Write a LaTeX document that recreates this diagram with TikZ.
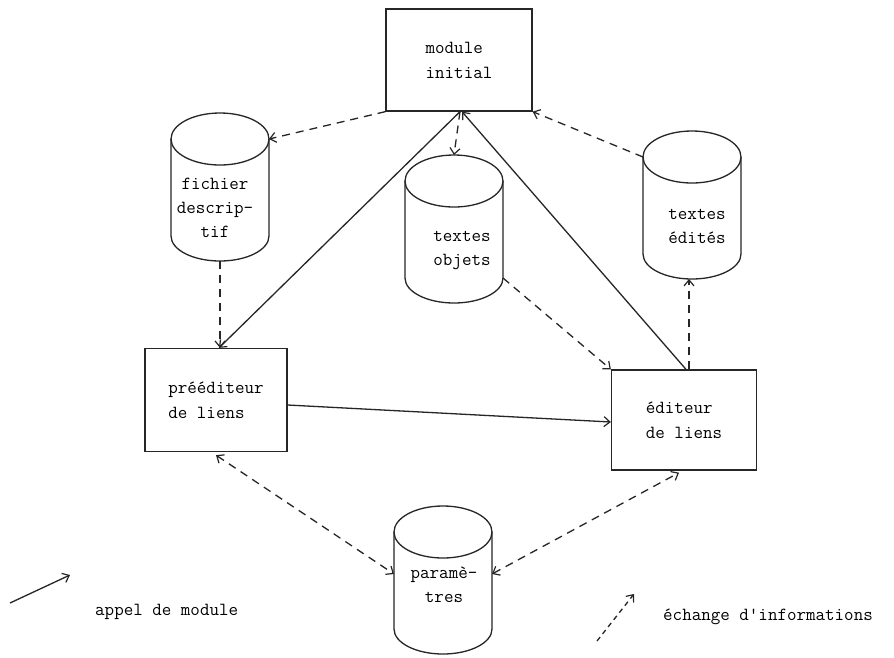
\documentclass[tikz,border=0pt]{standalone}
\usetikzlibrary{arrows.meta}
\tikzset{
  every picture/.style={x=1pt,y=-1pt},
  ink/.style={draw=black!85, line width=1.3pt},
  box/.style={ink, rectangle, minimum width=#1, inner sep=0pt, font=\ttfamily\fontsize{18.5}{25}\selectfont, align=left},
  cyltext/.style={font=\ttfamily\fontsize{18.5}{24}\selectfont, align=center, inner sep=0pt},
  legtext/.style={font=\ttfamily\fontsize{18.5}{22}\selectfont, anchor=west, inner sep=0pt},
  call/.style={ink, -{Straight Barb[length=6pt,width=10pt,line width=1.2pt]}},
  info/.style={ink, dash pattern=on 8pt off 6pt, -{Straight Barb[length=6pt,width=10pt,line width=1.2pt]}},
  infoboth/.style={ink, dash pattern=on 8pt off 6pt, {Straight Barb[length=6pt,width=10pt,line width=1.2pt]}-{Straight Barb[length=6pt,width=10pt,line width=1.2pt]}}
}
% cylinder: #1 name, #2 centre x, #3 junction y (top of body sides)
\newcommand{\mycyl}[3]{%
  \draw[ink] (#2,#3) ellipse [x radius=49pt, y radius=26pt];
  \draw[ink] (#2-49,#3) -- (#2-49,#3+97)
     arc [start angle=180, end angle=360, x radius=49pt, y radius=25pt]
     -- (#2+49,#3);
  \coordinate (#1-top) at (#2,#3-26);
  \coordinate (#1-bot) at (#2,#3+122);
  \coordinate (#1-ne) at (#2+49,#3);
  \coordinate (#1-nw) at (#2-49,#3);
  \coordinate (#1-se) at (#2+49,#3+97);
  \coordinate (#1-sw) at (#2-49,#3+97);
  \coordinate (#1-w) at (#2-49,#3+42);
  \coordinate (#1-e) at (#2+49,#3+42);
}
\begin{document}
\begin{tikzpicture}
\useasboundingbox[fill=white] (0,0) rectangle (894,657);

% boxes
\node[box=146pt, minimum height=102pt] (mi) at (459,60) {module\\initial};
\node[box=142pt, minimum height=103pt] (pre) at (216,400) {prééditeur\\de liens};
\node[box=145pt, minimum height=100pt] (edi) at (684,420) {éditeur\\de liens};

% cylinders
\mycyl{fd}{220}{139}
\node[cyltext] (fdt) at (215,208) {fichier\\descrip-\\tif};
\mycyl{to}{454}{181}
\node[cyltext] (tot) at (462,250) {textes\\objets};
\mycyl{te}{692}{157}
\node[cyltext] (tet) at (697,226) {textes\\édités};
\mycyl{pa}{443}{532}
\node[cyltext] (pat) at (444,585) {paramè-\\tres};

% information exchanges (dashed)
\draw[info] (mi.south west) -- (fd-ne);
\draw[info] ([xshift=1pt]mi.south) -- (to-top);
\draw[info] (te-nw) -- (mi.south east);
\draw[info] (fd-bot) -- (fd-bot |- pre.north);
\draw[info] (to-se) -- (edi.north west);
\draw[info] ([xshift=5pt]edi.north) -- ([xshift=5pt]edi.north |- te-bot);
\draw[infoboth] ([yshift=-3pt]pre.south) -- (pa-w);
\draw[infoboth] (pa-e) -- ([xshift=-5pt,yshift=-2pt]edi.south);

% module calls (solid)
\draw[call] ([xshift=1pt]mi.south) -- ([xshift=3pt]pre.north);
\draw[call] ([xshift=2pt]edi.north) -- ([xshift=3pt]mi.south);
\draw[call] ([yshift=-5pt]pre.east) -- ([yshift=-2pt]edi.west);

% legend
\coordinate (l1a) at (10,603);
\coordinate (l1b) at (70,575);
\draw[call] (l1a) -- (l1b);
\node[legtext] (l1t) at (95,612) {appel de module};
\coordinate (l2a) at (597,641);
\coordinate (l2b) at (634,594);
\draw[info, dash pattern=on 5pt off 4pt] (l2a) -- (l2b);
\node[legtext] (l2t) at (663,617) {échange d'informations};
\end{tikzpicture}
\end{document}
